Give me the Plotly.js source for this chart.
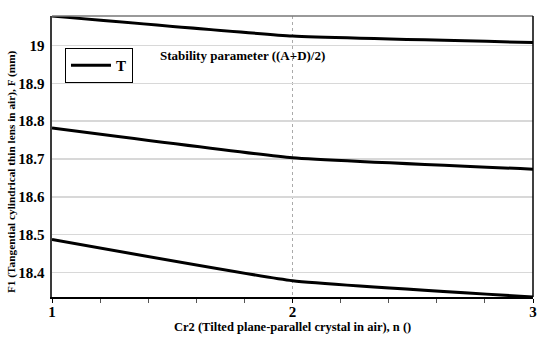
<!DOCTYPE html>
<html>
<head>
<meta charset="utf-8">
<script src="https://cdn.plot.ly/plotly-3.0.1.min.js"></script>
<style>html,body{margin:0;padding:0;background:#fff;}#chart{width:544px;height:340px;}</style>
</head>
<body>
<div id="chart"></div>
<script>
// Data
const nValues = [1, 2, 3];
const seriesTop = [19.078, 19.025, 19.008];
const seriesMid = [18.782, 18.703, 18.673];
const seriesBot = [18.487, 18.378, 18.335];
const legendName = "T";
const yTicks = [18.4, 18.5, 18.6, 18.7, 18.8, 18.9, 19];
const yTickLabels = ["18.4", "18.5", "18.6", "18.7", "18.8", "18.9", "19"];
const xTicks = [1, 2, 3];
const xTitle = "Cr2 (Tilted plane-parallel crystal in air), n ()";
const yTitle = "F1 (Tangential cylindrical thin lens in air), F (mm)";
const noteText = "Stability parameter ((A+D)/2)";

const allY = seriesTop.concat(seriesMid, seriesBot);
const yMin = Math.min.apply(null, allY);
const yMax = Math.max.apply(null, allY);

const lineStyle = {color: "#000", width: 3, shape: "spline", smoothing: 0.35};
const traces = [seriesTop, seriesMid, seriesBot].map((ys, i) => ({
  x: nValues, y: ys, type: "scatter", mode: "lines",
  name: legendName, showlegend: i === 0, line: lineStyle, hoverinfo: "skip"
}));

const serif = "Liberation Serif, Times New Roman, serif";
const layout = {
  width: 544, height: 340,
  margin: {l: 52, r: 11, t: 16, b: 43, pad: 0},
  paper_bgcolor: "#fff", plot_bgcolor: "#fff",
  font: {family: serif, color: "#000"},
  showlegend: true,
  legend: {
    x: 0.027, y: 0.886, xanchor: "left", yanchor: "top",
    bgcolor: "#fff", bordercolor: "#000", borderwidth: 1,
    font: {family: serif, size: 15, weight: "bold"},
    itemwidth: 40, tracegroupgap: 0, valign: "middle"
  },
  xaxis: {
    range: [1, 3], tickvals: xTicks, ticktext: xTicks.map(String),
    showgrid: true, gridcolor: "#aaa", griddash: "dot", gridwidth: 1,
    zeroline: false, showline: true, linecolor: "#000", linewidth: 1.5,
    ticks: "outside", ticklen: 4, tickcolor: "#000", ticklabelstandoff: -4,
    minor: {dtick: 0.2, ticks: "outside", ticklen: 4, tickcolor: "#555", showgrid: false},
    tickfont: {family: serif, size: 15, weight: "bold"}
  },
  yaxis: {
    range: [yMin, yMax], tickvals: yTicks, ticktext: yTickLabels,
    showgrid: true, gridcolor: "#d8d8d8", gridwidth: 1.5,
    zeroline: false, showline: true, linecolor: "#3a3a3a", linewidth: 2.5,
    ticks: "", ticklabelstandoff: 2,
    tickfont: {family: serif, size: 15, weight: "bold"}
  },
  shapes: [
    {type: "line", xref: "paper", yref: "paper", x0: 0, x1: 1, y0: 1, y1: 1, line: {color: "#777", width: 1.5}},
    {type: "line", xref: "paper", yref: "paper", x0: 1, x1: 1, y0: 0, y1: 1, line: {color: "#000", width: 1.5}}
  ],
  annotations: [
    {text: noteText, xref: "paper", yref: "paper", x: 0.221, y: 0.86, xanchor: "left", yanchor: "middle",
     showarrow: false, font: {family: serif, size: 13, weight: "bold"}},
    {text: xTitle, xref: "paper", yref: "paper", x: 0.5, y: -0.107, xanchor: "center", yanchor: "middle",
     showarrow: false, font: {family: serif, size: 12.5, weight: "bold"}},
    {text: yTitle, xref: "paper", yref: "paper", x: -0.083, y: 0.445, xanchor: "center", yanchor: "middle",
     textangle: -90, showarrow: false, font: {family: serif, size: 11.3, weight: "bold"}}
  ]
};

Plotly.newPlot("chart", traces, layout, {displayModeBar: false, staticPlot: true});
</script>
</body>
</html>
